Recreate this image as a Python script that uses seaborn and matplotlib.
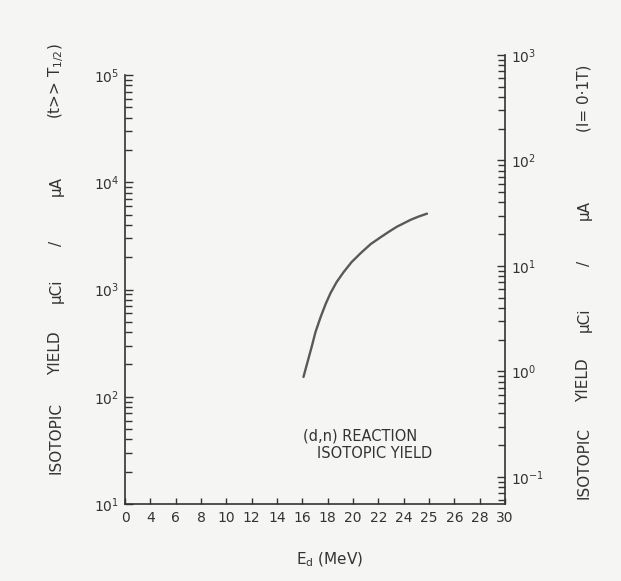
import numpy as np
import pandas as pd
import matplotlib
matplotlib.use("Agg")
import matplotlib.pyplot as plt
from matplotlib.ticker import FixedLocator, LogLocator, NullFormatter, FixedFormatter
import seaborn as sns

# ---- data ----
x_ticks = [0, 2, 4, 6, 8, 10, 12, 14, 16, 18, 20, 22, 24, 26, 28, 30]
x_tick_labels = ["0", "4", "6", "8", "10", "12", "14", "16", "18", "20",
                 "22", "24", "25", "26", "28", "30"]
ed = [14.09, 14.41, 14.73, 15.04, 15.44, 15.84, 16.23, 16.71, 17.26, 17.89,
      18.61, 19.40, 20.19, 20.82, 21.46, 22.57, 23.20, 23.84]
yield_val = [153, 211, 290, 402, 552, 733, 929, 1175, 1454, 1803,
             2186, 2655, 3078, 3450, 3850, 4480, 4800, 5100]
left_decades = [1e1, 1e2, 1e3, 1e4, 1e5]
left_labels = ["$10^{1}$", "$10^{2}$", "$10^{3}$", "$10^{4}$", "$10^{5}$"]
right_decades = [1e-1, 1e0, 1e1, 1e2, 1e3]
right_labels = ["$10^{-1}$", "$10^{0}$", "$10^{1}$", "$10^{2}$", "$10^{3}$"]

sns.set_theme(style="white")
plt.rcParams["font.family"] = ["DejaVu Sans"]
plt.rcParams["mathtext.fontset"] = "dejavusans"

W, H = 621, 581
bg = "#f5f5f3"
ink = "#333333"
fig = plt.figure(figsize=(W / 100, H / 100), dpi=100, facecolor=bg)

def fx(px):
    return px / W

def fy(py):
    return 1 - py / H

ax = fig.add_axes([fx(125), fy(504), fx(505) - fx(125), fy(55) - fy(504)])
ax.set_facecolor(bg)
ax.patch.set_alpha(0)

df = pd.DataFrame({"Ed": ed, "Yield": yield_val})
sns.lineplot(data=df, x="Ed", y="Yield", ax=ax, color="#595959", linewidth=1.7)

ax.set_yscale("log")
ax.set_ylim(10, 10 ** 5.187)
ax.set_xlim(0, 30)
ax.set_xlabel("")
ax.set_ylabel("")

for s in ["top", "right"]:
    ax.spines[s].set_visible(False)
for s in ["left", "bottom"]:
    ax.spines[s].set_color(ink)
    ax.spines[s].set_linewidth(1.2)
ax.spines["left"].set_bounds(10, 1e5)

ax.xaxis.set_major_locator(FixedLocator(x_ticks))
ax.xaxis.set_major_formatter(FixedFormatter(x_tick_labels))
ax.yaxis.set_major_locator(FixedLocator(left_decades))
ax.yaxis.set_major_formatter(FixedFormatter(left_labels))
ax.yaxis.set_minor_locator(LogLocator(base=10, subs=np.arange(2, 10)))
ax.yaxis.set_minor_formatter(NullFormatter())

ax.tick_params(axis="x", which="major", direction="in", length=4, width=1,
               color=ink, labelsize=10, labelcolor=ink, pad=5, bottom=True)
ax.tick_params(axis="y", which="major", direction="in", length=6, width=1,
               color=ink, labelsize=10, labelcolor=ink, pad=4, left=True)
ax.tick_params(axis="y", which="minor", direction="in", length=5, width=1,
               color=ink, left=True)

ax2 = ax.twinx()
ax2.set_yscale("log")
ax2.set_ylim(10 ** -1.256, 1e3)
for s in ["top", "left", "bottom"]:
    ax2.spines[s].set_visible(False)
ax2.spines["right"].set_color(ink)
ax2.spines["right"].set_linewidth(1.2)
ax2.yaxis.set_major_locator(FixedLocator(right_decades))
ax2.yaxis.set_major_formatter(FixedFormatter(right_labels))
ax2.yaxis.set_minor_locator(LogLocator(base=10, subs=np.arange(2, 10)))
ax2.yaxis.set_minor_formatter(NullFormatter())
ax2.tick_params(axis="y", which="major", direction="in", length=6, width=1,
                color=ink, labelsize=10, labelcolor=ink, pad=4, right=True)
ax2.tick_params(axis="y", which="minor", direction="in", length=5, width=1,
                color=ink, right=True)

# axis titles (rotated, drawn piece by piece as in the original lettering)
fs = 11
left_words = [("ISOTOPIC", 438), ("YIELD", 353), ("µCi", 291), ("/", 243),
              ("µA", 186), ("(t>> T$_{1/2}$)", 81)]
for word, py in left_words:
    fig.text(fx(56), fy(py), word, rotation=90, ha="center", va="center",
             fontsize=fs, color=ink)
right_words = [("ISOTOPIC", 463), ("YIELD", 380), ("µCi", 320), ("/", 263),
               ("µA", 210), ("(I= 0·1T)", 98)]
for word, py in right_words:
    fig.text(fx(584), fy(py), word, rotation=90, ha="center", va="center",
             fontsize=fs, color=ink)

fig.text(fx(330), fy(560), "E$_{\\mathrm{d}}$ (MeV)", ha="center", va="center",
         fontsize=11, color=ink)

fig.text(fx(303), fy(436), "(d,n) REACTION", ha="left", va="center",
         fontsize=10.5, color=ink)
fig.text(fx(317), fy(453), "ISOTOPIC YIELD", ha="left", va="center",
         fontsize=10.5, color=ink)

fig.savefig("out.png", dpi=100, facecolor=bg)
